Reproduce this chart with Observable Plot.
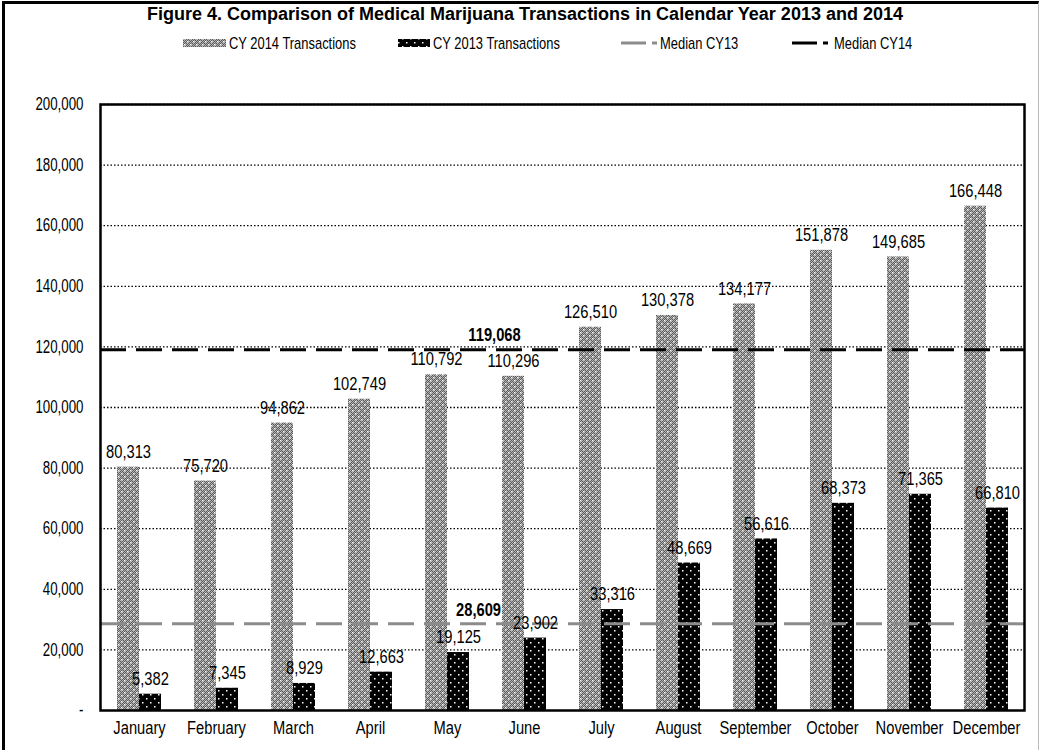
<!DOCTYPE html>
<html>
<head>
<meta charset="utf-8">
<script src="https://cdn.jsdelivr.net/npm/d3@7"></script>
<script src="https://cdn.jsdelivr.net/npm/@observablehq/plot@0.6"></script>
<style>
  body { margin: 0; background: #fff; font-family: "Liberation Sans", Arial, sans-serif; }
  #wrap { position: relative; width: 1041px; height: 750px; overflow: hidden; }
  #border { position: absolute; left: 2px; top: 1px; width: 1037px; height: 760px; border-top: 3px solid #000; border-left: 3px solid #000; border-right: 1px solid #bbb; box-sizing: border-box; pointer-events: none; }
  #title { position: absolute; top: 4px; left: 0; width: 1050px; text-align: center; font-weight: bold; font-size: 18px; color: #000; }
  #legend { position: absolute; top: 28px; left: 0; }
  #chart { position: absolute; top: 64px; left: 0; }
</style>
</head>
<body>
<div id="wrap">
  <div id="title">Figure 4. Comparison of Medical Marijuana Transactions in Calendar Year 2013 and 2014</div>
  <svg id="legend" width="1041" height="30"></svg>
  <div id="chart"></div>
  <div id="border"></div>
</div>
<script>
const months = ["January","February","March","April","May","June","July","August","September","October","November","December"];
const cy14 = [80313, 75720, 94862, 102749, 110792, 110296, 126510, 130378, 134177, 151878, 149685, 166448];
const cy13 = [5382, 7345, 8929, 12663, 19125, 23902, 33316, 48669, 56616, 68373, 71365, 66810];
const median13 = 28609;
const median14 = 119068;
const yTicks = [0, 20000, 40000, 60000, 80000, 100000, 120000, 140000, 160000, 180000, 200000];
const seriesNames = ["CY 2014 Transactions", "CY 2013 Transactions", "Median CY13", "Median CY14"];

const d14 = months.map((m, i) => ({month: m, value: cy14[i]}));
const d13 = months.map((m, i) => ({month: m, value: cy13[i]}));
const fmt = d3.format(",");
const font = '"Liberation Sans", Arial, sans-serif';

const svg = Plot.plot({
  width: 1041,
  height: 686,
  marginTop: 40,
  marginBottom: 40,
  marginLeft: 100,
  marginRight: 17,
  style: {fontFamily: font, fontSize: "17.5px", color: "#000", background: "transparent"},
  x: {domain: months, paddingInner: 0.43, paddingOuter: 0.215, label: null, tickSize: 0, tickPadding: 11},
  y: {domain: [0, 200000], ticks: yTicks, label: null, tickSize: 0, tickPadding: 17,
      tickFormat: d => d === 0 ? "-" : fmt(d)},
  marks: [
    Plot.ruleY(yTicks.slice(1), {stroke: "#000", strokeWidth: 1.3, strokeDasharray: "1.5,2"}),
    Plot.barY(d14, {x: "month", y: "value", fill: "url(#p14)", insetRight: 22}),
    Plot.barY(d13, {x: "month", y: "value", fill: "url(#p13)", insetLeft: 22}),
    Plot.ruleY([median13], {stroke: "#8c8c8c", strokeWidth: 3, strokeDasharray: "26,10"}),
    Plot.ruleY([median14], {stroke: "#000", strokeWidth: 3, strokeDasharray: "26,10"}),
    Plot.text(d14, {x: "month", y: "value", text: d => fmt(d.value), dx: -11, dy: -15, fontSize: 17.5, fill: "#000"}),
    Plot.text(d13, {x: "month", y: "value", text: d => fmt(d.value), dx: 11, dy: -15, fontSize: 17.5, fill: "#000"}),
    Plot.text([median14], {x: () => "June", y: d => d, text: d => fmt(d), dx: -30, dy: -14, fontSize: 17.5, fontWeight: "bold", fill: "#000"}),
    Plot.text([median13], {x: () => "June", y: d => d, text: d => fmt(d), dx: -46, dy: -13, fontSize: 17.5, fontWeight: "bold", fill: "#000"}),
    Plot.frame({stroke: "#000", strokeWidth: 2.5})
  ]
});

// Patterns emulating the reference fills
const defs = d3.select(svg).insert("defs", ":first-child");
const p14 = defs.append("pattern").attr("id", "p14").attr("patternUnits", "userSpaceOnUse").attr("width", 6).attr("height", 6);
p14.append("rect").attr("width", 6).attr("height", 6).attr("fill", "#5a5a5a");
for (let i = 0; i < 6; i++) for (let j = 0; j < 6; j++) if ((i + j) % 2 === 0)
  p14.append("rect").attr("x", i).attr("y", j).attr("width", 1).attr("height", 1).attr("fill", "#b4b4b4");
p14.append("rect").attr("x", 1).attr("y", 1).attr("width", 1.5).attr("height", 1.5).attr("fill", "#fff");
p14.append("rect").attr("x", 4).attr("y", 4).attr("width", 1.5).attr("height", 1.5).attr("fill", "#fff");
const p13 = defs.append("pattern").attr("id", "p13").attr("patternUnits", "userSpaceOnUse").attr("width", 8).attr("height", 8);
p13.append("rect").attr("width", 8).attr("height", 8).attr("fill", "#000");
p13.append("rect").attr("x", 2).attr("y", 2).attr("width", 1.5).attr("height", 1.5).attr("fill", "#fff");
p13.append("rect").attr("x", 6).attr("y", 6).attr("width", 1.5).attr("height", 1.5).attr("fill", "#fff");

document.getElementById("chart").appendChild(svg);

// Legend
const lg = d3.select("#legend").style("font-family", font).style("font-size", "17px");
const cy = 15;
function barItem(name, pat, x0, w, tx) {
  lg.append("rect").attr("x", x0).attr("y", cy - 4).attr("width", w).attr("height", 8).attr("fill", `url(#${pat})`);
  lg.append("text").attr("x", tx).attr("y", cy).attr("dy", "0.36em").text(name);
}
function lineItem(name, color, x0, tx) {
  lg.append("line").attr("x1", x0).attr("x2", x0 + 25).attr("y1", cy).attr("y2", cy).attr("stroke", color).attr("stroke-width", 3);
  lg.append("line").attr("x1", x0 + 31).attr("x2", x0 + 36).attr("y1", cy).attr("y2", cy).attr("stroke", color).attr("stroke-width", 3);
  lg.append("text").attr("x", tx).attr("y", cy).attr("dy", "0.36em").text(name);
}
barItem(seriesNames[0], "p14", 183, 43, 229);
barItem(seriesNames[1], "p13", 398, 32, 433);
lineItem(seriesNames[2], "#8c8c8c", 621, 660);
lineItem(seriesNames[3], "#000", 792, 834);

// Emulate a narrow typeface by compressing glyphs horizontally
function narrow(nodes, k) {
  nodes.forEach(t => {
    if (t.hasAttribute("textLength")) return;
    const L = t.getComputedTextLength();
    if (L > 0) { t.setAttribute("textLength", L * k); t.setAttribute("lengthAdjust", "spacingAndGlyphs"); }
  });
}
narrow(svg.querySelectorAll('[aria-label^="y-axis"] text'), 0.76);
narrow(svg.querySelectorAll("text"), 0.84);
narrow(document.querySelectorAll("#legend text"), 0.76);
</script>
</body>
</html>
